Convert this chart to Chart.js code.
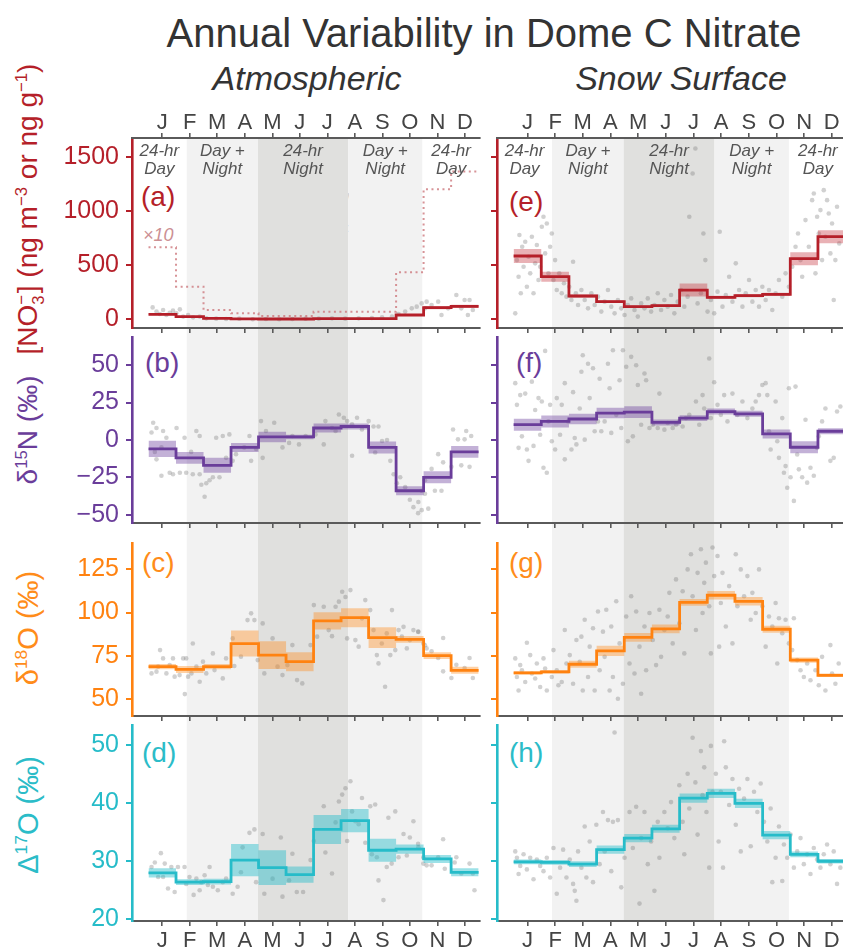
<!DOCTYPE html>
<html>
<head>
<meta charset="utf-8">
<script src="https://cdn.jsdelivr.net/npm/chart.js@4.4.1/dist/chart.umd.min.js"></script>
<style>
  html, body { margin: 0; padding: 0; width: 843px; height: 950px; overflow: hidden; background: #fff; }
  body { position: relative; font-family: "Liberation Sans", Arial, Helvetica, sans-serif; }
  canvas { position: absolute; }
  .txt { position: absolute; white-space: nowrap; }
  .rot { transform: translate(-50%, -50%) rotate(-90deg); }
  .season { transform: translate(-50%, -50%); text-align: center; font-style: italic; font-size: 17px; line-height: 18px; color: #555; }
  .plabel { font-size: 28px; transform: translateY(-50%); }
  sup, sub { font-size: 0.6em; line-height: 0; }
</style>
</head>
<body>
<div class="txt" style="left:484px;top:33px;transform:translate(-50%,-50%);font-size:40px;color:#333;">Annual Variability in Dome C Nitrate</div>
<div class="txt" style="left:307px;top:78px;transform:translate(-50%,-50%);font-size:34px;font-style:italic;color:#333;">Atmospheric</div>
<div class="txt" style="left:681px;top:78px;transform:translate(-50%,-50%);font-size:34px;font-style:italic;color:#333;">Snow Surface</div>

<div class="txt rot" style="left:28px;top:209px;font-size:28px;color:#B51F29;">[NO<sub>3</sub><sup style="margin-left:-0.56em;margin-right:0.1em">−</sup>] (ng m<sup>−3</sup> or ng g<sup>−1</sup>)</div>
<div class="txt rot" style="left:28px;top:430px;font-size:28px;color:#6A3D9A;">δ<sup>15</sup>N (‰)</div>
<div class="txt rot" style="left:28px;top:628px;font-size:29px;color:#FF8C1A;">δ<sup>18</sup>O (‰)</div>
<div class="txt rot" style="left:28px;top:815px;font-size:29px;color:#2BBCC8;">Δ<sup>17</sup>O (‰)</div>

<div class="txt plabel" style="left:141px;top:197px;color:#B51F29;">(a)</div>
<div class="txt plabel" style="left:145px;top:363px;color:#6A3D9A;">(b)</div>
<div class="txt plabel" style="left:142px;top:563px;color:#FF8C1A;">(c)</div>
<div class="txt plabel" style="left:142px;top:753px;color:#2BBCC8;">(d)</div>
<div class="txt plabel" style="left:509px;top:202px;color:#B51F29;">(e)</div>
<div class="txt plabel" style="left:516px;top:363px;color:#6A3D9A;">(f)</div>
<div class="txt plabel" style="left:509px;top:563px;color:#FF8C1A;">(g)</div>
<div class="txt plabel" style="left:509px;top:753px;color:#2BBCC8;">(h)</div>

<div class="txt" style="left:143px;top:235px;transform:translateY(-50%);font-size:18px;font-style:italic;color:#CC9094;">×10</div>
<div class="txt" style="left:199px;top:193px;width:8px;height:8px;border-radius:50%;background:#cfcfcf;"></div>
<div class="txt" style="left:221px;top:197px;transform:translateY(-50%);font-size:18px;color:#555;">Individual observation</div>
<div class="txt" style="left:190px;top:221px;width:26px;height:10px;background:rgba(0,0,0,0.22);"></div>
<div class="txt" style="left:190px;top:224.5px;width:26px;height:3px;background:#555;"></div>
<div class="txt" style="left:221px;top:226px;transform:translateY(-50%);font-size:18px;color:#555;">Monthly mean ± 95% CI</div>

<script>
// month tick labels and season boundaries (in month units, Jan = 1)
const MONTHS = ['J', 'F', 'M', 'A', 'M', 'J', 'J', 'A', 'S', 'O', 'N', 'D'];
const SEASON_EDGES = [1.89, 4.48, 7.76, 10.45];
const SEASON_LABELS = ['24-hr<br>Day', 'Day +<br>Night', '24-hr<br>Night', 'Day +<br>Night', '24-hr<br>Day'];

// y tick values
const NO3_TICKS = [0, 500, 1000, 1500];
const D15N_TICKS = [-50, -25, 0, 25, 50];
const D18O_TICKS = [50, 75, 100, 125];
const D17O_TICKS = [20, 30, 40, 50];

// ---- (a) atmospheric nitrate concentration
const atmNO3Mean = [45, 25, 8, 5, 3, 3, 6, 6, 7, 40, 108, 120];
const atmNO3CI = [8, 5, 2, 1, 1, 1, 1, 1, 1, 8, 15, 15];
const atmNO3x10 = [664, 301, 86, 55, 30, 30, 70, 70, 70, 433, 1199, 1362];
const atmNO3Obs = [[0.65,110],[0.79,71],[0.91,49],[1.03,86],[1.15,40],[1.27,61],[1.39,80],[1.51,55],[1.64,92],[1.76,25],
  [1.94,40],[2.12,18],[2.36,25],[2.6,9],[2.96,6],[3.32,3],[3.8,6],[4.29,0],[4.77,3],[5.25,0],[5.73,3],[6.21,6],[6.69,6],
  [7.17,9],[7.65,6],[8.14,9],[8.62,12],[8.99,18],[9.35,25],[9.59,49],[9.83,71],[10.07,101],[10.25,117],[10.43,147],
  [10.61,163],[10.55,101],[10.79,132],[11.03,163],[11.15,40],[11.39,101],[11.69,224],[11.87,101],[12.11,40],[11.99,178],
  [12.17,178],[12.29,86]];

// ---- (e) snow nitrate concentration
const snowNO3Mean = [584, 393, 215, 163, 117, 126, 270, 203, 218, 230, 559, 762];
const snowNO3CI = [65, 46, 15, 12, 10, 10, 60, 15, 15, 15, 60, 60];
const snowNO3Obs = [[0.56,55],[0.62,546],[0.68,393],[0.71,777],[0.76,240],[0.81,669],[0.86,485],[0.92,715],[0.98,301],
  [1.04,577],[1.1,424],[1.16,761],[1.22,240],[1.28,516],[1.34,685],[1.4,362],[1.46,485],[1.52,853],[1.58,946],[1.64,608],
  [1.7,884],[1.76,424],[1.82,669],[1.88,792],[1.94,362],[2.0,546],[2.06,270],[2.15,424],[2.24,240],[2.32,332],[2.41,209],
  [2.51,301],[2.59,178],[2.65,531],[2.75,240],[2.83,132],[2.95,270],[3.07,178],[3.19,101],[3.31,240],[3.43,132],[3.55,209],
  [3.67,71],[3.79,163],[3.91,270],[4.03,117],[4.15,55],[4.27,178],[4.39,101],[4.51,40],[4.63,132],[4.75,193],[4.87,86],
  [4.99,25],[5.11,147],[5.23,101],[5.35,193],[5.47,71],[5.59,132],[5.71,240],[5.83,86],[5.95,178],[6.07,117],[6.19,224],
  [6.31,55],[6.43,163],[6.55,270],[6.67,117],[6.79,209],[6.85,946],[6.97,1345],[7.07,1575],[7.15,147],[7.27,240],[7.36,792],
  [7.43,546],[7.51,71],[7.63,178],[7.75,55],[7.87,255],[7.95,807],[8.05,117],[8.17,224],[8.29,393],[8.41,163],[8.53,516],
  [8.65,270],[8.77,117],[8.89,240],[9.01,362],[9.13,163],[9.25,270],[9.37,117],[9.49,301],[9.61,178],[9.73,270],[9.85,86],
  [9.97,240],[10.09,362],[10.21,209],[10.33,424],[10.45,301],[10.57,485],[10.69,669],[10.78,792],[10.87,546],[10.93,393],
  [11.05,915],[11.17,669],[11.29,1099],[11.35,1160],[11.41,424],[11.47,946],[11.53,792],[11.59,1007],[11.65,546],
  [11.71,1191],[11.77,761],[11.83,1099],[11.89,976],[11.95,608],[12.01,884],[12.07,178],[12.13,546],[12.19,1038],[12.27,700]];

// ---- (b) atmospheric d15N
const atmD15NMean = [-6, -12, -17, -5, 2, 2, 8, 9, -5, -34, -25, -8];
const atmD15NCI = [5.5, 4, 5, 3, 3.5, 1.5, 3, 2, 4, 3, 4, 4];
const atmD15NObs = [[0.67,11.5],[0.79,8],[0.61,5],[1.03,6],[1.15,1.5],[0.97,-5],[0.73,-8],[0.79,-13],[0.97,-24],[1.27,-22],
  [1.52,8],[1.39,-23],[1.64,-22],[1.81,1.5],[1.87,-22],[2.05,-8],[2.11,-23],[2.24,6],[2.36,2.6],[2.36,-23],[2.42,-30],
  [2.54,-38],[2.6,-29],[2.72,-27],[2.84,-25],[2.96,1.5],[3.08,-25],[3.2,2.6],[3.32,-12],[3.44,3.7],[3.56,-14],[3.68,-9.5],
  [3.98,-5],[4.17,2.6],[4.23,-14],[4.41,-6],[4.59,12.6],[4.65,-12],[4.77,6],[5.07,11.5],[5.37,-5],[5.61,-2],[5.73,2.6],
  [5.97,-3],[6.21,2.6],[6.57,3.7],[6.87,-3],[6.93,12.6],[7.17,8],[7.3,6],[7.42,17],[7.6,14.8],[7.72,12.6],[7.9,10.4],
  [8.08,14.8],[7.9,-10.6],[8.26,7],[8.5,12.6],[8.68,9],[8.86,9],[8.74,-8.4],[8.99,-0.7],[9.17,0],[9.29,-14],[9.41,-23],
  [9.53,-29],[9.65,-25],[9.83,-31.6],[10.0,-40],[10.13,-45],[10.3,-49],[10.43,-34],[10.55,-27],[10.31,-41.5],[10.43,-47],
  [10.67,-46],[10.55,-36],[10.79,-19.4],[10.91,-34],[11.15,-34],[11.21,-15],[11.03,-9.5],[11.51,-18],[11.57,7],[11.75,0.4],
  [12.05,6],[11.99,0.4],[12.17,-18],[11.87,-17],[12.23,2.6]];

// ---- (f) snow d15N
const snowD15NMean = [10.2, 12.4, 14, 18, 18.6, 11.7, 14.6, 19, 17.5, 4, -4.9, 5.8];
const snowD15NCI = [4, 4, 3.5, 3.5, 4, 2, 2, 2, 2, 3, 4, 2];
const snowD15NObs = [[0.56,38],[0.62,23.5],[0.68,-5.3],[0.74,30],[0.8,2.4],[0.92,31],[0.98,-6.4],[1.04,-14],[1.16,39],
  [1.22,-4],[1.28,20],[1.4,28],[1.46,3.5],[1.52,25.7],[1.58,-18.6],[1.64,59.6],[1.7,-22],[1.76,12.4],[1.82,23.5],[1.88,-0.9],
  [2.0,-6.4],[2.06,28],[2.18,3.5],[2.24,23.5],[2.35,38],[2.35,-13],[2.47,12.4],[2.59,-6.4],[2.65,32],[2.71,1.3],[2.77,-3],
  [2.89,21],[2.95,45.6],[3.0,56.7],[3.07,0.2],[3.19,51],[3.25,28],[3.37,48],[3.43,5.8],[3.55,12.4],[3.61,41],[3.67,5.8],
  [3.79,12.4],[3.91,51],[3.97,34.6],[4.03,4.7],[4.09,60],[4.21,16.8],[4.33,40],[4.39,8],[4.45,60],[4.57,49],[4.63,-0.9],
  [4.75,55.6],[4.81,2.4],[4.93,50],[4.99,36.8],[5.11,10.2],[5.23,44.5],[5.29,40],[5.41,8],[5.53,10.2],[5.71,8],[5.77,31],
  [5.95,6.9],[6.07,11.3],[6.25,8],[6.37,10.2],[6.49,12.4],[6.61,9],[6.73,14.6],[6.85,16.8],[7.09,25.7],[7.21,10.2],[7.33,30],
  [7.39,21],[7.57,54.5],[7.63,14.6],[7.75,38.6],[7.87,23.5],[7.99,16.8],[8.11,30],[8.23,12.4],[8.41,31],[8.59,16.8],
  [8.77,25.7],[8.95,14.6],[9.13,21],[9.25,25.7],[9.37,30],[9.49,36.8],[9.61,38],[9.67,30],[9.73,5.8],[9.79,-6.4],[9.97,25.7],
  [10.03,-0.9],[10.09,-12],[10.21,14.6],[10.27,-22],[10.33,-17.5],[10.39,-32],[10.45,34.6],[10.51,-25],[10.63,-40.8],
  [10.69,35.7],[10.75,-9.7],[10.81,-19.7],[10.93,-25],[11.05,13.5],[11.11,-28.6],[11.23,-18.6],[11.35,-24],[11.47,-5.3],
  [11.53,2.4],[11.65,12.4],[11.77,21],[11.95,-14],[12.07,-12],[12.19,19],[12.31,22.4]];

// ---- (c) atmospheric d18O
const atmD18OMean = [68.6, 67, 68.6, 82, 75.3, 71.5, 95.2, 97, 85.4, 84.4, 75, 66.5];
const atmD18OCI = [1.5, 2, 1.5, 7.5, 8, 5.5, 5, 5.5, 6, 2, 2, 2];
const atmD18OObs = [[0.61,64.7],[0.79,65.7],[0.92,78.2],[1.03,73.4],[0.85,68.6],[1.15,64.7],[1.27,69.5],[1.39,73.4],
  [1.45,62.8],[1.63,63.7],[1.76,73.4],[1.82,52.7],[1.87,73.4],[1.94,62.8],[2.06,64.7],[2.11,82],[2.24,68.6],[2.36,59.9],
  [2.48,71.5],[2.6,64.7],[2.84,76.3],[2.9,66.6],[3.2,61.8],[3.32,73.4],[3.56,85],[3.62,69],[3.86,74.4],[4.1,95.6],
  [4.23,99.5],[4.35,95.6],[4.47,72.4],[4.65,93.7],[4.71,64.7],[5.01,85],[5.19,68.6],[5.37,63.7],[5.55,69.5],[5.73,81.1],
  [5.9,60.8],[6.09,58.9],[6.39,81.1],[6.51,104.3],[6.63,86],[6.87,103.3],[7.05,89.8],[7.17,86.3],[7.3,103.3],[7.42,106.3],
  [7.54,112],[7.66,109],[7.72,85],[7.84,113],[8.02,84],[8.14,80.2],[8.26,96.6],[8.38,107.2],[8.56,101.4],[8.68,89.8],
  [8.8,75.3],[8.86,70.5],[8.98,82],[9.1,57],[9.16,87.9],[9.29,75.3],[9.35,101.4],[9.47,78.2],[9.59,89.8],[9.71,86],
  [9.77,91.7],[9.89,79.2],[10.0,84],[10.13,89.8],[10.3,88.9],[10.49,82],[10.61,79.2],[10.31,88.8],[10.55,81],[10.79,77.5],
  [11.21,85.2],[11.03,73.6],[11.21,65.9],[11.51,62],[11.69,69.7],[11.99,67.8],[12.17,73.6],[12.29,62]];

// ---- (g) snow d18O
const snowD18OMean = [65, 65.6, 70, 77.8, 85.6, 90.5, 105.9, 110, 106.5, 90.3, 72.4, 63.6];
const snowD18OCI = [1, 1, 2, 3, 2.5, 2.5, 2, 2.5, 2.5, 2, 1.5, 1];
const snowD18OObs = [[0.56,73.4],[0.62,62.6],[0.68,54.8],[0.74,69.5],[0.8,66.5],[0.92,59.7],[0.98,82.5],[1.1,75.3],
  [1.16,64.6],[1.28,61.7],[1.34,70.4],[1.46,56.8],[1.58,73.4],[1.64,67.5],[1.7,54.8],[1.88,62.6],[1.94,78.2],[2.06,66.5],
  [2.12,57.8],[2.24,59.7],[2.35,89.9],[2.41,70.4],[2.53,75.3],[2.65,58.7],[2.77,84.1],[2.89,71.4],[2.95,86],[3.0,54.8],
  [3.07,95.8],[3.19,62.6],[3.25,80.2],[3.37,90.9],[3.43,54.8],[3.55,100.6],[3.61,66.5],[3.73,88.9],[3.79,74.3],[3.85,101.6],
  [3.97,54.8],[4.03,91.9],[4.09,62.6],[4.21,106.5],[4.27,50],[4.33,82.1],[4.45,58.7],[4.57,97.7],[4.69,70.4],[4.75,109.4],
  [4.87,64.6],[4.93,100.6],[5.05,80.2],[5.11,52.9],[5.23,91.9],[5.29,66.5],[5.41,99.7],[5.53,84.1],[5.65,69.5],[5.77,101.6],
  [5.83,74.3],[5.95,89.9],[6.07,97.7],[6.13,111.4],[6.25,82.1],[6.37,119.2],[6.49,93.8],[6.61,112.3],[6.67,76.3],[6.79,125],
  [6.91,133.8],[6.97,109.4],[7.09,89.9],[7.15,123],[7.27,136.7],[7.33,99.7],[7.39,117.2],[7.45,128.9],[7.57,103.6],
  [7.63,76.3],[7.69,137.7],[7.75,121.1],[7.87,132.8],[7.93,80.2],[7.99,105.5],[8.05,123],[8.11,144.5],[8.17,91.9],
  [8.29,115.3],[8.41,82.1],[8.53,133.8],[8.59,103.6],[8.71,125],[8.83,109.4],[8.95,121.1],[9.07,95.8],[9.13,111.4],
  [9.25,99.7],[9.37,125],[9.49,103.6],[9.61,80.2],[9.73,97.7],[9.85,91.9],[9.97,105.5],[10.03,70.4],[10.09,96.7],[10.21,88],
  [10.33,95.8],[10.45,82.1],[10.57,78.2],[10.63,96.7],[10.75,72.4],[10.87,66.5],[10.99,62.6],[11.11,70.4],[11.23,60.7],
  [11.41,66.5],[11.53,57.8],[11.65,74.3],[11.77,54.8],[11.95,81.1],[12.01,64.6],[12.13,58.7],[12.25,70.4]];

// ---- (d) atmospheric D17O
const atmD17OMean = [28, 26.4, 26.5, 30.2, 28.9, 27.7, 35.5, 37, 31.9, 32.1, 30.4, 28.1];
const atmD17OCI = [0.8, 0.5, 0.5, 2.8, 3, 1.4, 2.5, 2, 2, 0.8, 0.7, 0.7];
const atmD17OObs = [[0.61,29],[0.73,29.8],[0.85,27.3],[0.95,31.4],[1.03,27.3],[1.09,29.6],[1.21,25.3],[1.33,29],
  [1.45,24.7],[1.57,29],[1.81,29],[1.87,26.1],[1.99,27.3],[2.14,24.2],[2.24,27],[2.36,25],[2.42,26.4],[2.54,27.6],
  [2.66,25.9],[2.72,29],[2.84,25.6],[3.02,25],[3.2,26.4],[3.32,27],[3.56,24.4],[3.74,25.6],[3.86,28.1],[3.92,32.4],
  [4.17,34.9],[4.35,35.5],[4.41,26.4],[4.65,34.7],[4.71,24.4],[5.01,27],[5.31,34.1],[5.37,23.9],[5.61,26.7],[5.73,31.3],
  [5.89,24.7],[6.12,24.7],[6.39,30.2],[6.51,33.5],[6.87,39.5],[6.93,31.5],[7.17,27.9],[7.3,36.7],[7.42,40.3],[7.54,41.5],
  [7.66,42.6],[7.72,33.5],[7.84,43.8],[7.9,38.6],[8.02,36.9],[8.14,36.4],[8.26,40.9],[8.38,33.2],[8.56,39.5],[8.62,31.2],
  [8.74,39.8],[8.8,30.7],[8.86,26.7],[9.04,23.3],[9.16,29],[9.22,37.5],[9.34,29.6],[9.47,38.6],[9.59,30.7],[9.77,34.7],
  [9.89,31],[10.0,34.1],[10.13,36.9],[10.3,33],[10.49,30.7],[10.61,29.3],[10.31,32.4],[10.49,29.6],[10.79,29.3],
  [11.03,30.7],[11.21,33.8],[11.27,28.7],[11.63,29.8],[11.69,30.7],[11.87,27.9],[12.17,29.6],[12.29,27.9],[12.35,25]];

// ---- (h) snow D17O
const snowD17OMean = [29.9, 29.8, 29.5, 32, 34, 35.6, 40.9, 41.7, 40, 34.5, 31.2, 30];
const snowD17OCI = [0.4, 0.4, 0.5, 0.7, 0.7, 0.7, 0.8, 0.8, 0.8, 0.7, 0.5, 0.4];
const snowD17OObs = [[0.56,31.7],[0.62,30.6],[0.68,27.8],[0.74,29.2],[0.86,31.2],[0.98,28.6],[1.1,30.6],[1.22,26.9],
  [1.34,30.3],[1.46,29.2],[1.58,28.3],[1.7,30.6],[1.82,27.2],[1.94,32.3],[2.06,24.4],[2.18,28.9],[2.29,32],[2.41,27.2],
  [2.53,30.3],[2.65,26.1],[2.71,24.9],[2.77,23.2],[2.83,31.7],[2.95,28.9],[3.07,36],[3.13,27.2],[3.25,33.4],[3.37,26.4],
  [3.49,36.3],[3.61,29.5],[3.73,38.5],[3.79,31.7],[3.91,37.1],[4.03,28.3],[4.09,36.8],[4.15,52.2],[4.27,37.1],[4.39,25.5],
  [4.51,30.6],[4.69,38.5],[4.81,32.3],[4.93,39.4],[5.05,22.7],[5.11,34],[5.23,38.5],[5.35,29.5],[5.47,33.4],[5.59,24.9],
  [5.71,36.8],[5.77,30.6],[5.95,38.5],[6.07,35.7],[6.19,40.2],[6.31,34],[6.49,43.1],[6.61,36.8],[6.67,31.2],[6.79,45.1],
  [6.85,39.1],[6.97,51.3],[7.07,43.6],[7.15,34.6],[7.27,49],[7.33,41.4],[7.39,46.2],[7.47,38.5],[7.57,28.9],[7.63,49.9],
  [7.69,42],[7.81,45.1],[7.91,33.4],[7.99,42],[8.07,28.9],[8.11,50.7],[8.17,46.2],[8.29,39.7],[8.41,44.2],[8.53,36.3],
  [8.65,42.5],[8.71,31.7],[8.83,40.8],[8.95,44.2],[9.07,32.6],[9.19,42],[9.31,38.5],[9.43,43.4],[9.55,36.8],[9.67,33.4],
  [9.79,39.1],[9.85,26.4],[9.97,30.6],[10.09,36],[10.21,26.6],[10.27,32.9],[10.39,30.6],[10.51,34.6],[10.63,28.9],
  [10.75,31.7],[10.87,34],[10.99,29.5],[11.11,31.2],[11.23,27.8],[11.35,32.3],[11.47,30.3],[11.59,28.9],[11.71,31.2],
  [11.83,32.9],[11.95,29.5],[12.07,31.7],[12.19,26.1],[12.31,28.9]];

//options
const RED = '#B51F29', PURPLE = '#6A3D9A', ORANGE = '#FF8210', CYAN = '#26BCC9';
const AXIS_GRAY = '#5a5a5a';
const LIGHT_SHADE = '#f2f2f2', DARK_SHADE = '#e0e0de';
const FONT = '"Liberation Sans", Arial, Helvetica, sans-serif';
const X_MIN = -0.1, X_MAX = 12.55;

const ROWS = [
  { top: 92, height: 241, padTop: 0, topAxis: 46, bottomAxis: 5, labels: false, shadeFromArea: true },
  { top: 333, height: 195, padTop: 2, bottomAxis: 5, labels: false },
  { top: 528, height: 193, padTop: 15, bottomAxis: 5, labels: false },
  { top: 721, height: 229, padTop: 2, bottomAxis: 29, labels: true, shadeToArea: true },
];
const COLS = [
  { left: 0, width: 484, yWidth: 132, yLabels: true },
  { left: 486, width: 365, yWidth: 11, yLabels: false },
];

const panels = [
  { row: 0, col: 0, color: RED, band: 'rgba(196,50,60,0.38)', yMin: -80, yMax: 1672, ticks: NO3_TICKS, mean: atmNO3Mean, ci: atmNO3CI, obs: atmNO3Obs, x10: atmNO3x10 },
  { row: 0, col: 1, color: RED, band: 'rgba(196,50,60,0.38)', yMin: -80, yMax: 1672, ticks: NO3_TICKS, mean: snowNO3Mean, ci: snowNO3CI, obs: snowNO3Obs },
  { row: 1, col: 0, color: PURPLE, band: 'rgba(106,61,154,0.4)', yMin: -55.6, yMax: 68.9, ticks: D15N_TICKS, mean: atmD15NMean, ci: atmD15NCI, obs: atmD15NObs },
  { row: 1, col: 1, color: PURPLE, band: 'rgba(106,61,154,0.4)', yMin: -55.6, yMax: 68.9, ticks: D15N_TICKS, mean: snowD15NMean, ci: snowD15NCI, obs: snowD15NObs },
  { row: 2, col: 0, color: ORANGE, band: 'rgba(255,140,30,0.4)', yMin: 40, yMax: 140.3, ticks: D18O_TICKS, mean: atmD18OMean, ci: atmD18OCI, obs: atmD18OObs },
  { row: 2, col: 1, color: ORANGE, band: 'rgba(255,140,30,0.4)', yMin: 40, yMax: 140.3, ticks: D18O_TICKS, mean: snowD18OMean, ci: snowD18OCI, obs: snowD18OObs },
  { row: 3, col: 0, color: CYAN, band: 'rgba(38,188,201,0.45)', yMin: 19.7, yMax: 53.5, ticks: D17O_TICKS, mean: atmD17OMean, ci: atmD17OCI, obs: atmD17OObs },
  { row: 3, col: 1, color: CYAN, band: 'rgba(38,188,201,0.45)', yMin: 19.7, yMax: 53.5, ticks: D17O_TICKS, mean: snowD17OMean, ci: snowD17OCI, obs: snowD17OObs },
];

// monthly steps: a point at the start of every month, plus one at the end of December
const steps = (vals) => vals.map((v, i) => ({ x: i + 0.5, y: v })).concat([{ x: 12.5, y: vals[vals.length - 1] }]);
const minus = (v) => (v < 0 ? '\u2212' + Math.abs(v) : String(v));

// season background (white / day+night / polar night)
const seasonShade = {
  id: 'seasonShade',
  beforeDraw(chart, args, opts) {
    const { ctx, chartArea: a, scales: { x } } = chart;
    const y0 = opts.fromArea ? a.top : 0;
    const y1 = opts.toArea ? a.bottom : chart.height;
    const spans = [
      [SEASON_EDGES[0], SEASON_EDGES[1], LIGHT_SHADE],
      [SEASON_EDGES[1], SEASON_EDGES[2], DARK_SHADE],
      [SEASON_EDGES[2], SEASON_EDGES[3], LIGHT_SHADE],
    ];
    ctx.save();
    spans.forEach(([s, e, c]) => {
      const px0 = Math.max(a.left, x.getPixelForValue(s));
      const px1 = Math.min(a.right, x.getPixelForValue(e));
      ctx.fillStyle = c;
      ctx.fillRect(px0, y0, px1 - px0, y1 - y0);
    });
    ctx.restore();
  },
};

const monthAxis = (position, height, showLabels, pad) => ({
  type: 'linear',
  position,
  min: X_MIN,
  max: X_MAX,
  afterBuildTicks: (s) => { s.ticks = MONTHS.map((m, i) => ({ value: i + 1 })); },
  afterFit: (s) => { s.height = height; s.paddingLeft = 0; s.paddingRight = 0; },
  ticks: {
    display: showLabels,
    autoSkip: false,
    maxRotation: 0,
    padding: pad,
    color: '#444',
    font: { family: FONT, size: 22 },
    callback: (v) => MONTHS[Math.round(v) - 1],
  },
  grid: { drawOnChartArea: false, drawTicks: true, tickLength: 5, color: AXIS_GRAY, lineWidth: 1.6 },
  border: { display: true, color: AXIS_GRAY, width: 2 },
});

const charts = panels.map((p) => {
  const row = ROWS[p.row];
  const col = COLS[p.col];
  const canvas = document.createElement('canvas');
  canvas.width = col.width;
  canvas.height = row.height;
  canvas.style.left = col.left + 'px';
  canvas.style.top = row.top + 'px';
  document.body.appendChild(canvas);

  const datasets = [
    {
      type: 'scatter',
      data: p.obs.map(([x, y]) => ({ x, y })),
      pointRadius: 2.3,
      pointBorderWidth: 0,
      pointBackgroundColor: 'rgba(115,115,115,0.33)',
      order: 5,
    },
    {
      data: steps(p.mean.map((m, i) => m - p.ci[i])),
      stepped: true, pointRadius: 0, borderWidth: 0, fill: false, order: 4,
    },
    {
      data: steps(p.mean.map((m, i) => m + p.ci[i])),
      stepped: true, pointRadius: 0, borderWidth: 0, fill: '-1', backgroundColor: p.band, order: 3,
    },
    {
      data: steps(p.mean),
      stepped: true, pointRadius: 0, borderWidth: 2.8, borderColor: p.color, fill: false, order: 1,
    },
  ];
  if (p.x10) {
    datasets.push({
      data: steps(p.x10),
      stepped: true, pointRadius: 0, borderWidth: 2, borderDash: [2, 3.5],
      borderColor: 'rgba(205,120,125,0.8)', fill: false, order: 2,
    });
  }

  const scales = {
    x: monthAxis('bottom', row.bottomAxis, row.labels, 2),
    y: {
      type: 'linear',
      min: p.yMin,
      max: p.yMax,
      afterBuildTicks: (s) => { s.ticks = p.ticks.map((v) => ({ value: v })); },
      afterFit: (s) => { s.width = col.yWidth; s.paddingTop = 0; s.paddingBottom = 0; },
      ticks: {
        display: col.yLabels,
        padding: 7,
        color: p.color,
        font: { family: FONT, size: 25 },
        callback: (v) => minus(v),
      },
      grid: { drawOnChartArea: false, drawTicks: true, tickLength: 6, color: p.color, lineWidth: 2 },
      border: { display: true, color: p.color, width: 2.6 },
    },
  };
  if (row.topAxis) scales.xt = monthAxis('top', row.topAxis, true, -3);

  return new Chart(canvas, {
    type: 'line',
    data: { datasets },
    options: {
      responsive: false,
      animation: false,
      devicePixelRatio: 1,
      layout: { padding: { top: row.padTop, right: 2, left: 0, bottom: 0 } },
      scales,
      plugins: {
        legend: { display: false },
        tooltip: { enabled: false },
        seasonShade: { fromArea: !!row.shadeFromArea, toArea: !!row.shadeToArea },
      },
    },
    plugins: [seasonShade],
  });
});

// season names in the top row, centred on each shaded span
[0, 1].forEach((k) => {
  const chart = charts[k];
  const col = COLS[panels[k].col];
  const x = chart.scales.x;
  const bounds = [X_MIN].concat(SEASON_EDGES, [X_MAX]);
  SEASON_LABELS.forEach((label, i) => {
    const cx = col.left + (x.getPixelForValue(bounds[i]) + x.getPixelForValue(bounds[i + 1])) / 2;
    const div = document.createElement('div');
    div.className = 'txt season';
    div.style.left = cx + 'px';
    div.style.top = '160px';
    div.innerHTML = label;
    document.body.appendChild(div);
  });
});
</script>
</body>
</html>
